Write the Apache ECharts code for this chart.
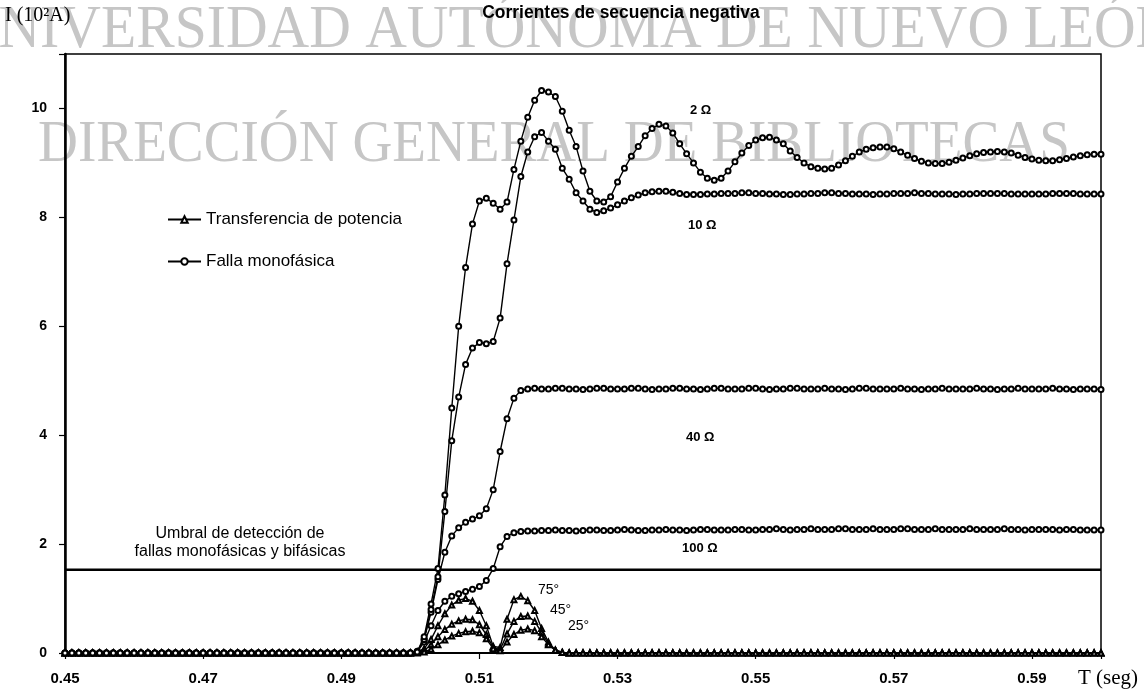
<!DOCTYPE html>
<html><head><meta charset="utf-8">
<script src="https://cdn.jsdelivr.net/npm/echarts@6/dist/echarts.min.js"></script>
<style>html,body{margin:0;padding:0;background:#fff}#c{width:1144px;height:691px}</style>
</head><body><div id="c"></div>
<script>
// ---- sampling grid (seconds) ----
const T_START = 0.45;      // first sample
const T_STEP = 0.001;      // simulation step
const T_AXIS_MIN = 0.45, T_AXIS_MAX = 0.60;

// ---- tick labels ----
const X_TICK_LABELS = ['0.45','0.47','0.49','0.51','0.53','0.55','0.57','0.59'];
const Y_TICK_LABELS = ['0','2','4','6','8','10'];

// ---- legend / series names ----
const NAME_TRANSF = 'Transferencia de potencia';
const NAME_FALLA = 'Falla monofásica';

// ---- detection threshold (10^2 A) ----
const THRESHOLD = 1.53;

// values before the fault (t = 0.450 .. 0.499)
const PRE_FAULT = [
0,0,0,0,0,0,0,0,0,0,
0,0,0,0,0,0,0,0,0,0,
0,0,0,0,0,0,0,0,0,0,
0,0,0,0,0,0,0,0,0,0,
0,0,0,0,0,0,0,0,0,0];

// Falla monofásica, t = 0.500 .. 0.600
const FALLA_2 = [
0,0.02,0.3,0.9,1.55,2.9,4.5,6.0,7.08,7.88,
8.3,8.35,8.26,8.15,8.28,8.88,9.4,9.84,10.15,10.33,
10.3,10.22,9.95,9.6,9.3,8.85,8.48,8.3,8.28,8.38,
8.65,8.9,9.12,9.3,9.5,9.63,9.71,9.68,9.55,9.35,
9.17,9.0,8.83,8.72,8.68,8.72,8.85,9.02,9.18,9.32,
9.42,9.46,9.47,9.42,9.35,9.22,9.1,9.0,8.93,8.9,
8.89,8.9,8.96,9.04,9.12,9.2,9.25,9.28,9.29,9.29,
9.26,9.2,9.14,9.08,9.03,9.0,8.99,8.99,9.01,9.05,
9.09,9.13,9.17,9.19,9.2,9.21,9.2,9.18,9.14,9.1,
9.07,9.05,9.04,9.04,9.06,9.08,9.11,9.13,9.15,9.16,
9.16];
const FALLA_10 = [
0,0.02,0.25,0.8,1.4,2.6,3.9,4.7,5.3,5.6,
5.7,5.68,5.72,6.15,7.15,7.95,8.75,9.2,9.48,9.56,
9.4,9.25,8.9,8.7,8.45,8.3,8.15,8.09,8.12,8.17,
8.23,8.3,8.36,8.41,8.45,8.47,8.48,8.48,8.46,8.44,
8.42,8.42,8.42,8.43,8.43,8.44,8.44,8.44,8.45,8.45,
8.44,8.44,8.43,8.43,8.42,8.42,8.43,8.43,8.44,8.44,
8.45,8.45,8.44,8.44,8.43,8.43,8.43,8.42,8.43,8.43,
8.44,8.44,8.44,8.45,8.44,8.44,8.43,8.43,8.43,8.42,
8.43,8.43,8.44,8.44,8.44,8.44,8.44,8.43,8.43,8.43,
8.43,8.43,8.43,8.44,8.44,8.44,8.44,8.43,8.43,8.43,
8.43];
const FALLA_40 = [
0,0.03,0.25,0.75,1.35,1.85,2.15,2.3,2.4,2.46,
2.52,2.65,3.0,3.7,4.3,4.68,4.82,4.85,4.86,4.85,
4.85,4.86,4.86,4.85,4.85,4.84,4.85,4.86,4.86,4.85,
4.85,4.85,4.86,4.86,4.85,4.84,4.85,4.85,4.86,4.86,
4.85,4.85,4.84,4.85,4.86,4.86,4.85,4.85,4.85,4.86,
4.86,4.85,4.84,4.85,4.85,4.86,4.86,4.85,4.85,4.85,
4.86,4.85,4.85,4.84,4.85,4.86,4.86,4.85,4.85,4.85,
4.85,4.86,4.85,4.85,4.84,4.85,4.85,4.86,4.85,4.85,
4.85,4.85,4.86,4.85,4.85,4.84,4.85,4.85,4.86,4.85,
4.85,4.85,4.85,4.86,4.85,4.85,4.84,4.85,4.85,4.85,
4.84];
const FALLA_100 = [
0,0.02,0.2,0.5,0.78,0.95,1.04,1.09,1.13,1.17,
1.22,1.33,1.55,1.95,2.14,2.21,2.23,2.24,2.24,2.25,
2.25,2.26,2.25,2.25,2.24,2.25,2.26,2.26,2.25,2.25,
2.26,2.27,2.26,2.25,2.25,2.26,2.26,2.27,2.26,2.26,
2.25,2.26,2.27,2.27,2.26,2.26,2.26,2.27,2.27,2.26,
2.26,2.27,2.27,2.28,2.27,2.26,2.27,2.27,2.28,2.27,
2.27,2.27,2.28,2.28,2.27,2.27,2.27,2.28,2.27,2.27,
2.27,2.28,2.28,2.27,2.27,2.27,2.28,2.27,2.27,2.27,
2.27,2.28,2.27,2.27,2.27,2.27,2.28,2.27,2.27,2.26,
2.27,2.27,2.27,2.27,2.26,2.27,2.27,2.26,2.26,2.26,
2.26];

// Transferencia de potencia, t = 0.500 .. 0.600
const TRANSF_75 = [
0,0.02,0.08,0.25,0.5,0.72,0.88,0.97,1.0,0.95,
0.78,0.5,0.12,0.1,0.62,0.98,1.04,0.96,0.78,0.45,
0.2,0.05,0.01,0,0,0,0,0,0,0,
0,0,0,0,0,0,0,0,0,0,
0,0,0,0,0,0,0,0,0,0,
0,0,0,0,0,0,0,0,0,0,
0,0,0,0,0,0,0,0,0,0,
0,0,0,0,0,0,0,0,0,0,
0,0,0,0,0,0,0,0,0,0,
0,0,0,0,0,0,0,0,0,0,
0];
const TRANSF_45 = [
0,0.01,0.05,0.15,0.3,0.43,0.53,0.59,0.62,0.61,
0.52,0.34,0.1,0.06,0.35,0.58,0.67,0.68,0.58,0.38,
0.17,0.05,0.01,0,0,0,0,0,0,0,
0,0,0,0,0,0,0,0,0,0,
0,0,0,0,0,0,0,0,0,0,
0,0,0,0,0,0,0,0,0,0,
0,0,0,0,0,0,0,0,0,0,
0,0,0,0,0,0,0,0,0,0,
0,0,0,0,0,0,0,0,0,0,
0,0,0,0,0,0,0,0,0,0,
0];
const TRANSF_25 = [
0,0,0.02,0.07,0.15,0.24,0.31,0.36,0.39,0.4,
0.37,0.26,0.08,0.04,0.2,0.34,0.42,0.44,0.41,0.3,
0.15,0.05,0.01,0,0,0,0,0,0,0,
0,0,0,0,0,0,0,0,0,0,
0,0,0,0,0,0,0,0,0,0,
0,0,0,0,0,0,0,0,0,0,
0,0,0,0,0,0,0,0,0,0,
0,0,0,0,0,0,0,0,0,0,
0,0,0,0,0,0,0,0,0,0,
0,0,0,0,0,0,0,0,0,0,
0];

// ---- build ----
// x axis runs in milliseconds after 0.45 s so that ticks start at 0.45
const toMs = t => Math.round((t - T_AXIS_MIN) * 1e6) / 1000;
function pairs(values) {
  return values.map((v, i) => [toMs(T_START + i * T_STEP), v]);
}
const SANS = '"Liberation Sans", Arial, sans-serif';
const SERIF = '"Liberation Serif", "Times New Roman", serif';

function curve(name, values, symbol) {
  return {
    name, type: 'line', data: pairs(PRE_FAULT.concat(values)),
    symbol, symbolSize: 5, showSymbol: true, showAllSymbol: true,
    lineStyle: { color: '#000', width: 1.4 },
    itemStyle: { color: '#000', borderColor: '#000', borderWidth: 1 },
    emphasis: { disabled: true }, animation: false, z: 3
  };
}

const series = [
  curve(NAME_TRANSF, TRANSF_75, 'emptyTriangle'),
  curve(NAME_TRANSF, TRANSF_45, 'emptyTriangle'),
  curve(NAME_TRANSF, TRANSF_25, 'emptyTriangle'),
  curve(NAME_FALLA, FALLA_100, 'emptyCircle'),
  curve(NAME_FALLA, FALLA_40, 'emptyCircle'),
  curve(NAME_FALLA, FALLA_10, 'emptyCircle'),
  curve(NAME_FALLA, FALLA_2, 'emptyCircle'),
  {
    name: 'Umbral', type: 'line', symbol: 'none',
    data: [[toMs(T_AXIS_MIN), THRESHOLD], [toMs(T_AXIS_MAX), THRESHOLD]],
    lineStyle: { color: '#000', width: 2.4 }, z: 2, animation: false,
    emphasis: { disabled: true }
  }
];

function txt(text, x, y, font, align, extra) {
  return Object.assign({
    type: 'text', x, y, silent: true, z: 50,
    style: { text, font, fill: '#000', textAlign: align, align: align,
             textVerticalAlign: 'middle', verticalAlign: 'middle' }
  }, extra || {});
}
function wm(text, x, y, size, sx) {
  return {
    type: 'text', x, y, scaleX: sx, silent: true, z: -10,
    style: { text, font: size + 'px ' + SERIF, fill: '#c6c6c6',
             textAlign: 'center', align: 'center',
             textVerticalAlign: 'middle', verticalAlign: 'middle' }
  };
}

const chart = echarts.init(document.getElementById('c'), null, { renderer: 'canvas' });
chart.setOption({
  backgroundColor: '#fff',
  animation: false,
  grid: { left: 65, right: 43, top: 54, bottom: 38, show: true,
          borderColor: '#000', borderWidth: 1.5, backgroundColor: 'transparent',
          containLabel: false, outerBoundsMode: 'none' },
  legend: {
    data: [NAME_TRANSF, NAME_FALLA], orient: 'vertical',
    left: 162, top: 206, itemWidth: 33, itemHeight: 8, itemGap: 25,
    textStyle: { fontFamily: SANS, fontSize: 17, color: '#000' },
    selectedMode: false, inactiveColor: '#000'
  },
  xAxis: {
    type: 'value', min: toMs(T_AXIS_MIN), max: toMs(T_AXIS_MAX), interval: 20,
    axisLine: { lineStyle: { color: '#000', width: 2 } },
    axisTick: { show: true, length: 6, inside: false, lineStyle: { color: '#000', width: 1.2 } },
    axisLabel: {
      margin: 18, color: '#000', fontFamily: SANS, fontSize: 15, fontWeight: 'bold',
      formatter: v => { const i = Math.round(v / 20); return (Math.abs(v - i * 20) < 1e-6 && i < X_TICK_LABELS.length) ? X_TICK_LABELS[i] : ''; }
    },
    splitLine: { show: false }
  },
  yAxis: {
    type: 'value', min: 0, max: 11, interval: 2,
    axisLine: { show: true, lineStyle: { color: '#000', width: 2.5 } },
    axisTick: { show: true, length: 6, inside: false, lineStyle: { color: '#000', width: 1.2 } },
    axisLabel: {
      margin: 18, color: '#000', fontFamily: SANS, fontSize: 14, fontWeight: 'bold',
      formatter: v => { const i = Math.round(v / 2); return (Math.abs(v - i * 2) < 1e-6 && i < Y_TICK_LABELS.length) ? Y_TICK_LABELS[i] : ''; }
    },
    splitLine: { show: false }
  },
  series,
  graphic: { elements: [
    wm('UNIVERSIDAD AUTÓNOMA DE NUEVO LEÓN', 567, 31, 62, 0.93),
    wm('DIRECCIÓN GENERAL DE BIBLIOTECAS', 554, 145, 60, 0.92),
    txt('Corrientes de secuencia negativa', 621, 13, 'bold 18px ' + SANS, 'center', { scaleX: 0.97 }),
    txt('I (10²A)', 5, 16, '20px ' + SERIF, 'left'),
    txt('T (seg)', 1078, 678, '21px ' + SERIF, 'left'),
    txt('2 Ω', 690, 110, 'bold 13px ' + SANS, 'left'),
    txt('10 Ω', 688, 225, 'bold 13px ' + SANS, 'left'),
    txt('40 Ω', 686, 437, 'bold 13px ' + SANS, 'left'),
    txt('100 Ω', 682, 548, 'bold 13px ' + SANS, 'left'),
    txt('75°', 538, 590, '14px ' + SANS, 'left'),
    txt('45°', 550, 610, '14px ' + SANS, 'left'),
    txt('25°', 568, 626, '14px ' + SANS, 'left'),
    txt('Umbral de detección de', 240, 534, '16px ' + SANS, 'center'),
    txt('fallas monofásicas y bifásicas', 240, 552, '16px ' + SANS, 'center')
  ]}
});
</script></body></html>
